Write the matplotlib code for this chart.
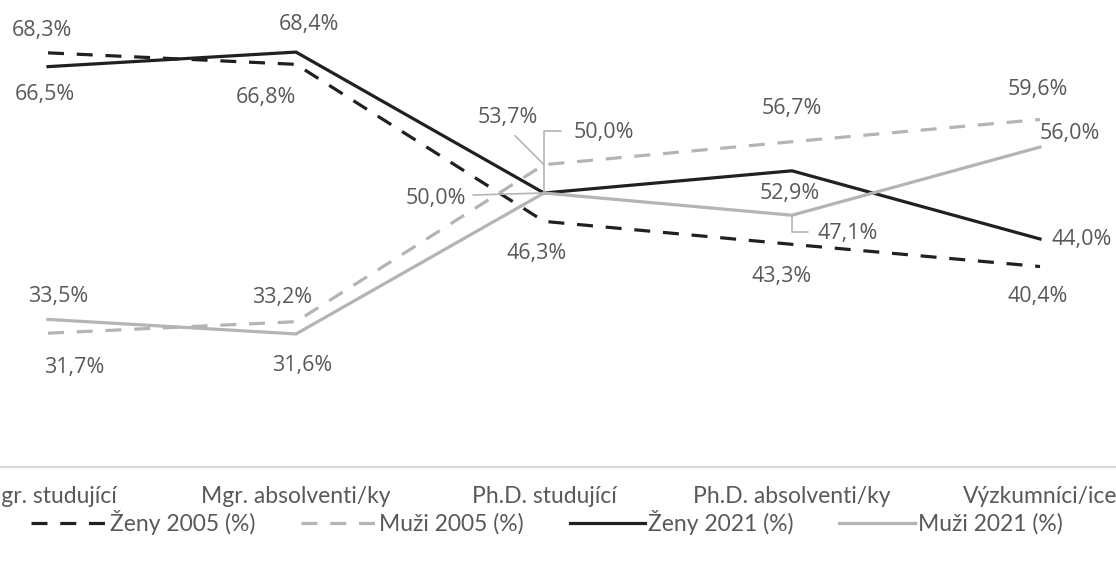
import matplotlib

matplotlib.use("Agg")
import matplotlib.pyplot as plt

categories = ["Mgr. studující", "Mgr. absolventi/ky", "Ph.D. studující",
              "Ph.D. absolventi/ky", "Výzkumníci/ice"]
zeny_2005 = [68.3, 66.8, 46.3, 43.3, 40.4]
muzi_2005 = [31.7, 33.2, 53.7, 56.7, 59.6]
zeny_2021 = [66.5, 68.4, 50.0, 52.9, 44.0]
muzi_2021 = [33.5, 31.6, 50.0, 47.1, 56.0]

BLACK = "#231f20"
GRAY = "#b4b4b6"
TEXT = "#595959"

label_font = ["Open Sans", "DejaVu Sans"]
tick_font = ["Lato", "DejaVu Sans"]

fig = plt.figure(figsize=(11.16, 5.66), dpi=100)
ax = fig.add_axes([-76 / 1116, 99 / 566, 1240 / 1116, 467 / 566])

x = range(len(categories))
series = [
    ("Ženy 2005 (%)", zeny_2005, BLACK, (0, (5, 4))),
    ("Muži 2005 (%)", muzi_2005, GRAY, (0, (5, 4))),
    ("Ženy 2021 (%)", zeny_2021, BLACK, "-"),
    ("Muži 2021 (%)", muzi_2021, GRAY, "-"),
]
for name, vals, color, ls in series:
    ax.plot(x, vals, color=color, linestyle=ls, linewidth=2.3, label=name,
            solid_joinstyle="miter")

# label offsets in pixels (dx, dy) relative to each point
offsets = {
    "Ženy 2005 (%)": [(-6, 22), (-30, -33), (-7, -32), (-10, -32), (-2, -30)],
    "Muži 2005 (%)": [(26, -34), (-14, 24), (-36, 47), (0, 33), (-2, 30)],
    "Ženy 2021 (%)": [(-3, -28), (13, 28), (-108, -5), (-2, -23), (42, -1)],
    "Muži 2021 (%)": [(10, 23), (6, -32), (60, 61), (56, -18), (30, 14)],
}
for name, vals, color, ls in series:
    for i, v in enumerate(vals):
        dx, dy = offsets[name][i]
        ax.annotate(f"{v:.1f}%".replace(".", ","), (i, v), xytext=(dx, dy),
                    textcoords="offset pixels", ha="center", va="center",
                    fontsize=15.5, color=TEXT, family=label_font)

# leader lines
lead = dict(arrowstyle="-", color=GRAY, lw=1.2, shrinkA=0, shrinkB=0)
ax.annotate("", (2, muzi_2005[2]), xytext=(-29, 29), textcoords="offset pixels",
            arrowprops=lead)
ax.annotate("", (2, zeny_2021[2]), xytext=(-71, -2), textcoords="offset pixels",
            arrowprops=lead)
ax.annotate("", (2, muzi_2021[2]), xytext=(17, 62), textcoords="offset pixels",
            arrowprops=dict(lead, connectionstyle="angle,angleA=0,angleB=90,rad=0"))
ax.annotate("", (3, muzi_2021[3]), xytext=(16, -17), textcoords="offset pixels",
            arrowprops=dict(lead, connectionstyle="angle,angleA=0,angleB=90,rad=0"))

ax.set_xlim(-0.5, len(categories) - 0.5)
ax.set_ylim(14.23, 75.2)
ax.set_xticks(list(x))
ax.set_xticklabels(categories, family=tick_font, fontsize=16.5, color=TEXT)
ax.tick_params(axis="x", length=0, pad=14)
ax.set_yticks([])
for side in ["left", "right", "top"]:
    ax.spines[side].set_visible(False)
ax.spines["bottom"].set_color("#d9d9d9")
ax.spines["bottom"].set_linewidth(1.5)

leg = fig.legend(loc="center", bbox_to_anchor=(0.49, 0.077), ncol=4, frameon=False,
                 handlelength=3.3, handletextpad=0.12, columnspacing=2.0,
                 prop={"family": tick_font, "size": 16.5})
for t in leg.get_texts():
    t.set_color(TEXT)

fig.savefig("out.png", dpi=100)
